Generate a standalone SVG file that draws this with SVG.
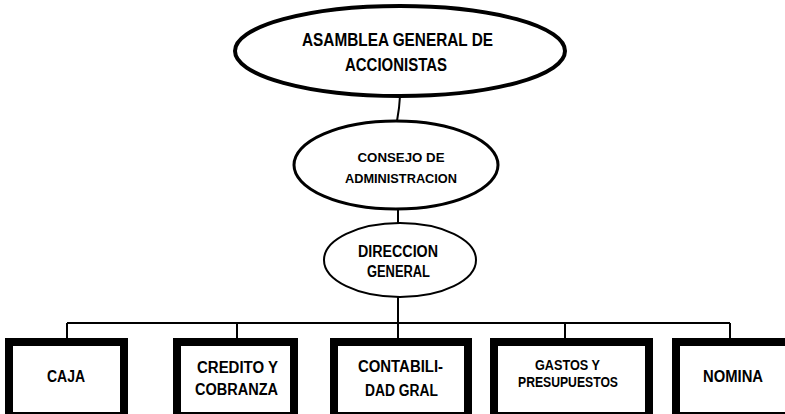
<svg xmlns="http://www.w3.org/2000/svg" width="785" height="414" viewBox="0 0 785 414">
<style>
.t{font-family:"Liberation Sans",Arial,sans-serif;font-weight:bold;fill:#000;text-anchor:middle}
.box{fill:#fff;stroke:#000;stroke-width:8}
.ell{fill:#fff;stroke:#000}
.c{stroke:#000;stroke-width:2;fill:none}
</style>
<rect width="785" height="414" fill="#fff"/>
<g id="connectors">
<path class="c" d="M400 96 L399 108 L397 121"/>
<path class="c" d="M398 209 L398 223"/>
<path class="c" d="M398 296 L398 339"/>
<path class="c" d="M67 323 L730 323"/>
<path class="c" d="M67 323 L67 339"/>
<path class="c" d="M237 323 L237 339"/>
<path class="c" d="M565 323 L565 339"/>
<path class="c" d="M730 323 L730 339"/>
</g>
<g id="asamblea">
<ellipse class="ell" cx="400" cy="51" rx="165" ry="45" stroke-width="4"/>
<text class="t" x="397.5" y="46" font-size="19" textLength="191" lengthAdjust="spacingAndGlyphs">ASAMBLEA GENERAL DE</text>
<text class="t" x="396" y="71" font-size="19" textLength="102" lengthAdjust="spacingAndGlyphs">ACCIONISTAS</text>
</g>
<g id="consejo">
<ellipse class="ell" cx="396" cy="165" rx="102" ry="44" stroke-width="3"/>
<text class="t" x="401" y="162" font-size="13" textLength="87" lengthAdjust="spacingAndGlyphs">CONSEJO DE</text>
<text class="t" x="401" y="183" font-size="13" textLength="112" lengthAdjust="spacingAndGlyphs">ADMINISTRACION</text>
</g>
<g id="direccion">
<ellipse class="ell" cx="400" cy="260" rx="76" ry="37" stroke-width="2"/>
<text class="t" x="398" y="257" font-size="16" font-weight="normal" textLength="80" lengthAdjust="spacingAndGlyphs">DIRECCION</text>
<text class="t" x="398.5" y="277" font-size="16" font-weight="normal" textLength="63" lengthAdjust="spacingAndGlyphs">GENERAL</text>
</g>
<g id="caja">
<rect class="box" x="9" y="342" width="115" height="74"/>
<text class="t" x="66" y="382" font-size="16" textLength="38" lengthAdjust="spacingAndGlyphs">CAJA</text>
</g>
<g id="credito">
<rect class="box" x="177" y="342" width="117" height="74"/>
<text class="t" x="237.5" y="373" font-size="16" textLength="81" lengthAdjust="spacingAndGlyphs">CREDITO Y</text>
<text class="t" x="236.5" y="395" font-size="16" textLength="83" lengthAdjust="spacingAndGlyphs">COBRANZA</text>
</g>
<g id="contabilidad">
<rect class="box" x="334" y="342" width="134" height="74"/>
<text class="t" x="400.5" y="372" font-size="16" textLength="85" lengthAdjust="spacingAndGlyphs">CONTABILI-</text>
<text class="t" x="401.5" y="396" font-size="16" textLength="73" lengthAdjust="spacingAndGlyphs">DAD GRAL</text>
</g>
<g id="gastos">
<rect class="box" x="494" y="342" width="155" height="74"/>
<text class="t" x="567.5" y="370" font-size="14" textLength="65" lengthAdjust="spacingAndGlyphs">GASTOS Y</text>
<text class="t" x="568" y="387" font-size="14" textLength="100" lengthAdjust="spacingAndGlyphs">PRESUPUESTOS</text>
</g>
<g id="nomina">
<rect class="box" x="676" y="342" width="114" height="74"/>
<text class="t" x="733" y="382" font-size="16" textLength="60" lengthAdjust="spacingAndGlyphs">NOMINA</text>
</g>
</svg>
